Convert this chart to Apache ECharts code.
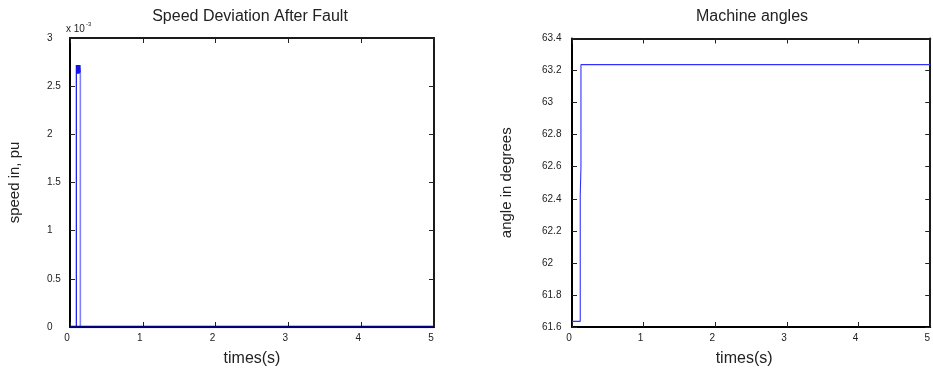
<!DOCTYPE html>
<html>
<head>
<meta charset="utf-8">
<script src="https://cdn.jsdelivr.net/npm/echarts@6/dist/echarts.min.js"></script>
<style>
  html, body { margin: 0; padding: 0; background: #fff; }
  #chart { width: 933px; height: 372px; }
</style>
</head>
<body>
<div id="chart"></div>
<script>
// speed deviation (units of 1e-3 pu) - left plot
const zeroT = [0, 5];
const zeroV = [0, 0];
const spikeT = [0, 0.087, 0.087, 0.092, 0.097, 0.102, 0.107, 0.112, 0.117, 0.122, 0.127, 0.132, 0.137, 0.142];
const spikeV = [0, 0, 2.72, 2.63, 2.72, 2.63, 2.72, 2.63, 2.72, 2.63, 2.72, 2.63, 2.72, 2.64];
const tailT = [0.142, 0.142];
const tailV = [2.64, 0];

// machine angle (degrees) - right plot
const angleT = [0, 0.115, 0.115, 0.125, 0.125, 5];
const angleV = [61.635, 61.635, 62.42, 62.6, 63.237, 63.237];

const pairs = (xs, ys) => xs.map((x, i) => [x, ys[i]]);

const font = 'Liberation Sans, Arial, sans-serif';
const frame = '#1a1a1a';

function axisPair(gridIndex, pos, opts) {
  // main axis with labels + mirrored axis on opposite side with ticks only
  const main = Object.assign({
    gridIndex: gridIndex,
    type: 'value',
    position: pos,
    axisLine: { show: true, onZero: false, lineStyle: { color: '#000', width: 2 } },
    axisTick: { show: true, inside: true, length: 5, lineStyle: { color: '#222' } },
    axisLabel: { color: '#222', fontSize: 10, fontFamily: font },
    splitLine: { show: false }
  }, opts);
  const mirror = Object.assign({}, main, {
    position: pos === 'bottom' ? 'top' : 'right',
    axisLine: { show: true, onZero: false, lineStyle: { color: frame, width: 2 } },
    axisLabel: { show: false },
    name: ''
  });
  return [main, mirror];
}

const chart = echarts.init(document.getElementById('chart'));

const xAxes = [
  ...axisPair(0, 'bottom', {
    min: 0, max: 5, interval: 1,
    name: 'times(s)', nameLocation: 'middle', nameGap: 24,
    nameTextStyle: { fontSize: 16, color: '#222', fontFamily: font },
    axisLabel: { color: '#222', fontSize: 10, fontFamily: font, margin: 6, padding: [0, 6, 0, 0] }
  }),
  ...axisPair(1, 'bottom', {
    min: 0, max: 5, interval: 1,
    name: 'times(s)', nameLocation: 'middle', nameGap: 24,
    nameTextStyle: { fontSize: 16, color: '#222', fontFamily: font, padding: [0, 14, 0, 0] },
    axisLabel: { color: '#222', fontSize: 10, fontFamily: font, margin: 6, padding: [0, 6, 0, 0] }
  })
];

const yAxes = [
  ...axisPair(0, 'left', {
    min: 0, max: 3, interval: 0.5,
    name: 'speed in, pu', nameLocation: 'middle', nameGap: 48,
    nameTextStyle: { fontSize: 15, color: '#222', fontFamily: font },
    axisLabel: { color: '#222', fontSize: 10, fontFamily: font, align: 'left', margin: 23 }
  }),
  ...axisPair(1, 'left', {
    min: 61.6, max: 63.4, interval: 0.2,
    name: 'angle in degrees', nameLocation: 'middle', nameGap: 58,
    nameTextStyle: { fontSize: 15, color: '#222', fontFamily: font },
    axisLabel: { color: '#222', fontSize: 10, fontFamily: font, align: 'left', margin: 30,
      formatter: v => String(+v.toFixed(1)) }
  })
];

const option = {
  animation: false,
  backgroundColor: '#fff',
  title: [
    { text: 'Speed Deviation After Fault', left: 245, top: 4, textAlign: 'center',
      textStyle: { fontSize: 16, fontWeight: 'normal', color: '#222', fontFamily: font } },
    { text: 'Machine angles', left: 747, top: 4, textAlign: 'center',
      textStyle: { fontSize: 16, fontWeight: 'normal', color: '#222', fontFamily: font } }
  ],
  grid: [
    { left: 70, right: 499, top: 38, bottom: 43, containLabel: false },
    { left: 572, right: -3, top: 38.5, bottom: 43.5, containLabel: false }
  ],
  xAxis: xAxes,
  yAxis: yAxes,
  graphic: [
    { type: 'text', left: 66, top: 24, style: { text: 'x 10', fontSize: 10, fill: '#222', fontFamily: font } },
    { type: 'text', left: 86, top: 21, style: { text: '-3', fontSize: 6, fill: '#222', fontFamily: font } }
  ],
  series: [
    {
      name: 'spike', type: 'line', xAxisIndex: 0, yAxisIndex: 0,
      data: pairs(spikeT, spikeV), showSymbol: false,
      lineStyle: { color: '#1414e6', width: 1.2 }
    },
    {
      name: 'spike tail', type: 'line', xAxisIndex: 0, yAxisIndex: 0,
      data: pairs(tailT, tailV), showSymbol: false,
      lineStyle: { color: '#8080ff', width: 1.6 }
    },
    {
      name: 'zero', type: 'line', xAxisIndex: 0, yAxisIndex: 0,
      data: pairs(zeroT, zeroV), showSymbol: false,
      lineStyle: { color: '#00007a', width: 2.5 }
    },
    {
      name: 'angle', type: 'line', xAxisIndex: 2, yAxisIndex: 2,
      data: pairs(angleT, angleV), showSymbol: false,
      lineStyle: { color: '#3030ff', width: 1.1 }
    }
  ]
};

chart.setOption(option);
</script>
</body>
</html>
